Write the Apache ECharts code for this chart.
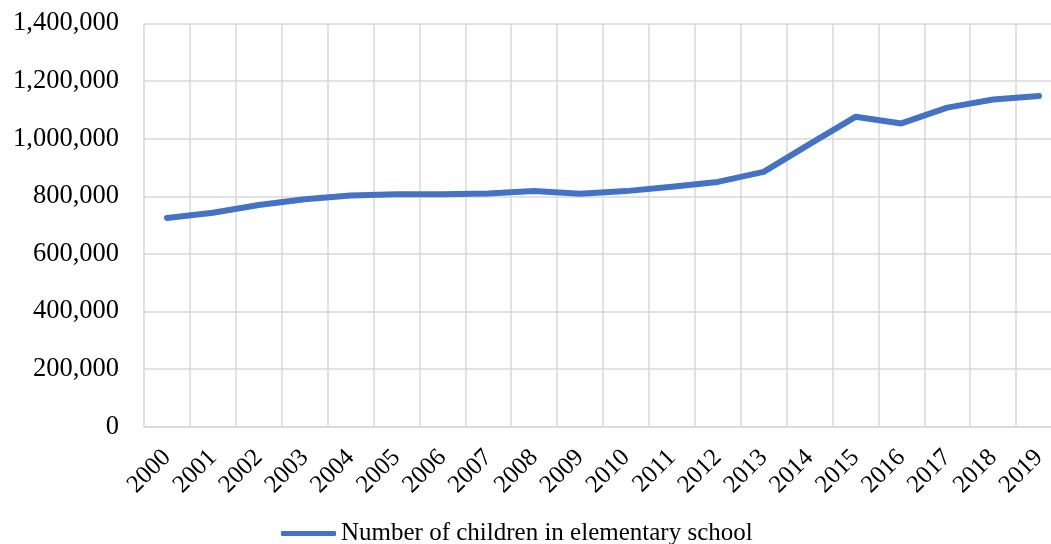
<!DOCTYPE html>
<html>
<head>
<meta charset="utf-8">
<title>Number of children in elementary school</title>
<script src="https://cdn.jsdelivr.net/npm/echarts@6/dist/echarts.min.js"></script>
<style>
  html, body { margin: 0; padding: 0; background: #ffffff; }
  #chart { width: 1051px; height: 544px; }
</style>
</head>
<body>
<div id="chart"></div>
<script>
// Enrolment by school year
const years = ['2000', '2001', '2002', '2003', '2004', '2005', '2006', '2007', '2008', '2009',
               '2010', '2011', '2012', '2013', '2014', '2015', '2016', '2017', '2018', '2019'];
const children = [725000, 743000, 770000, 790000, 803000, 807000, 807000, 810000, 818000, 809000,
                  818000, 833000, 850000, 885000, 981000, 1076000, 1053000, 1108000, 1136000, 1148000];
const seriesName = 'Number of children in elementary school';

const serif = '"Liberation Serif", "Times New Roman", serif';
const gridColor = '#d9d9d9';
const lineColor = '#4472c4';

const chart = echarts.init(document.getElementById('chart'), null, { renderer: 'canvas' });
chart.setOption({
  animation: false,
  backgroundColor: '#ffffff',
  // plot area runs slightly past the right edge of the canvas
  grid: {
    left: 144, width: 918, top: 23.5, height: 403.2,
    containLabel: false, outerBoundsMode: 'none'
  },
  legend: {
    data: [{ name: seriesName, icon: 'roundRect' }],
    left: 276,
    top: 516,
    itemWidth: 55,
    itemHeight: 5,
    itemGap: 3,
    textStyle: { fontFamily: serif, fontSize: 25, color: '#000000' }
  },
  xAxis: {
    type: 'category',
    data: years,
    boundaryGap: true,
    axisLine: { show: true, lineStyle: { color: gridColor, width: 1.5 } },
    axisTick: { show: false },
    splitLine: { show: true, lineStyle: { color: gridColor, width: 1.5 } },
    axisLabel: {
      rotate: 45,
      interval: 0,
      margin: 27,
      fontFamily: serif,
      fontSize: 25,
      color: '#000000'
    }
  },
  yAxis: {
    type: 'value',
    min: 0,
    max: 1400000,
    interval: 200000,
    axisLine: { show: false },
    axisTick: { show: false },
    splitLine: { show: true, lineStyle: { color: gridColor, width: 1.5 } },
    axisLabel: {
      margin: 25,
      fontFamily: serif,
      fontSize: 26.5,
      color: '#000000',
      formatter: v => v.toLocaleString('en-US')
    }
  },
  series: [{
    name: seriesName,
    type: 'line',
    data: children,
    showSymbol: false,
    symbol: 'none',
    smooth: false,
    lineStyle: { color: lineColor, width: 6, cap: 'round', join: 'round' },
    itemStyle: { color: lineColor }
  }]
});
</script>
</body>
</html>
